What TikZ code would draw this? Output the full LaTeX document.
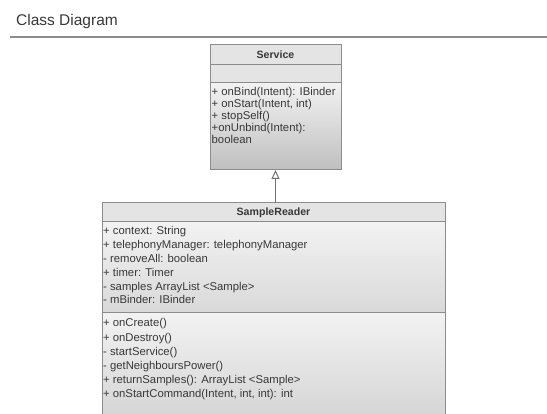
\documentclass[tikz,border=0pt]{standalone}
\usepackage{fontspec}
\setmainfont{Liberation Sans}
\usetikzlibrary{arrows.meta}
\definecolor{bord}{HTML}{8C8C8C}
\definecolor{txt}{HTML}{383838}
\definecolor{hdrfill}{HTML}{E4E4E4}
\begin{document}
\begin{tikzpicture}[x=1pt,y=-1pt,
  box/.style={draw=bord,line width=1pt,anchor=north west,inner sep=0pt,outer sep=0pt},
  hdrtxt/.style={font=\bfseries\fontsize{10.6}{12}\selectfont,text=txt,inner sep=0pt},
  mem/.style={font=\fontsize{11.3}{12}\selectfont,text=txt,inner sep=0pt,anchor=base west},
  ttl/.style={font=\fontsize{15.5}{18}\selectfont,text=txt,inner sep=0pt,anchor=base west}]
\clip (0,0) rectangle (547,414);
\fill[white] (0,0) rectangle (547,414);
% title
\node[ttl] (title) at (16,25.5) {Class Diagram};
\coordinate (rulel) at (10,37);
\coordinate (ruler) at (547,37);
\draw[color=black!45,line width=1.2pt] (rulel) -- (ruler);
% Service class
\node[box,fill=hdrfill,minimum width=131pt,minimum height=20pt] (svchead) at (210,45) {};
\node[hdrtxt] (svcname) at (svchead.center) {Service};
\node[box,fill=hdrfill,minimum width=131pt,minimum height=18pt] (svcattr) at (210,65) {};
\node[box,top color=black!5,bottom color=black!25,minimum width=131pt,minimum height=87pt] (svcops) at (210,83) {};
\foreach \t [count=\i] in {{+ onBind(Intent): IBinder},{+ onStart(Intent, int)},{+ stopSelf()},{+onUnbind(Intent):},{boolean}}
  \node[mem] (svcop\i) at (211.5,{96+12*(\i-1)}) {\t};
% SampleReader class
\node[box,fill=hdrfill,minimum width=343pt,minimum height=19pt] (srhead) at (102,203) {};
\node[hdrtxt] (srname) at (srhead.center) {SampleReader};
\node[box,top color=black!5,bottom color=black!15,minimum width=343pt,minimum height=91pt] (srattr) at (102,222) {};
\node[box,top color=black!5,bottom color=black!17,minimum width=343pt,minimum height=110pt] (srops) at (102,313) {};
\foreach \t [count=\i] in {{+ context: String},{+ telephonyManager: telephonyManager},{- removeAll: boolean},{+ timer: Timer},{- samples ArrayList <Sample>},{- mBinder: IBinder}}
  \node[mem] (sra\i) at (103,{235+13.8*(\i-1)}) {\t};
\foreach \t [count=\i] in {{+ onCreate()},{+ onDestroy()},{- startService()},{- getNeighboursPower()},{+ returnSamples(): ArrayList <Sample>},{+ onStartCommand(Intent, int, int): int}}
  \node[mem] (sro\i) at (103,{327+14.2*(\i-1)}) {\t};
% generalization
\draw[draw=black!55,line width=1pt,-{Triangle[open,width=8pt,length=9pt]}] (svcops.south |- srhead.north) -- (svcops.south);
\end{tikzpicture}
\end{document}
